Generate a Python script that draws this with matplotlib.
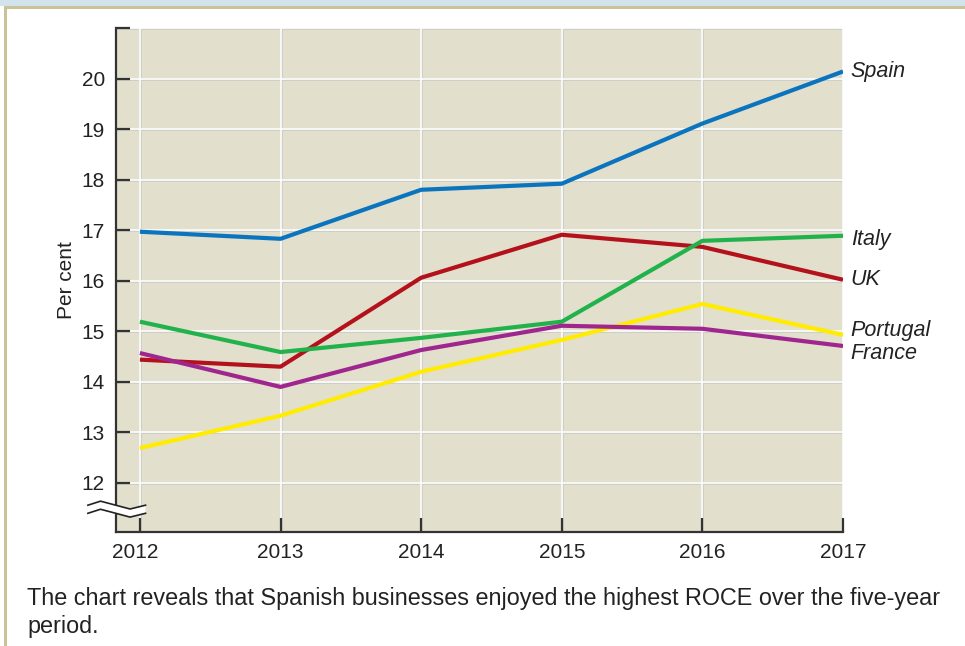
import numpy as np
import matplotlib.pyplot as plt
import matplotlib.transforms as mtransforms
from matplotlib.patches import Rectangle, Polygon

plt.rcParams['font.family'] = ['Liberation Sans', 'DejaVu Sans']

# Data (ROCE, per cent)
years = [2012, 2013, 2014, 2015, 2016, 2017]
spain = [16.97, 16.83, 17.80, 17.92, 19.11, 20.14]
uk = [14.44, 14.30, 16.06, 16.91, 16.67, 16.02]
italy = [15.19, 14.59, 14.87, 15.19, 16.79, 16.89]
portugal = [12.69, 13.33, 14.20, 14.83, 15.54, 14.93]
france = [14.57, 13.90, 14.63, 15.11, 15.05, 14.71]
yticks = [12, 13, 14, 15, 16, 17, 18, 19, 20]

fig = plt.figure(figsize=(9.65, 6.46), dpi=100)
fig.patch.set_facecolor('white')

# outer frame: blue strip on top, khaki border
fig.patches.append(Rectangle((0, 1 - 6/646), 1, 6/646, transform=fig.transFigure,
                             facecolor='#d3e3eb', edgecolor='none', zorder=0))
fig.patches.append(Rectangle((5/965, -0.01), 1.1, 1 - 7/646 + 0.01, transform=fig.transFigure,
                             facecolor='none', edgecolor='#c9c397', lw=2.2, zorder=1))

ax = fig.add_axes([116/965, 1 - 532/646, (843 - 116)/965, (532 - 28)/646])
ax.set_facecolor('#e2dfcc')
ax.set_xlim(2011.83, 2017)
ax.set_ylim(11.03, 21.0)

# grid: faint grey shadow under white line
for y in yticks + [21]:
    ax.axhline(y, color='#cdcdc6', lw=2.0, zorder=1)
    ax.axhline(y, color='white', lw=1.2, zorder=1.1)
for x in years:
    ax.axvline(x, color='#cdcdc6', lw=2.0, zorder=1)
    ax.axvline(x, color='white', lw=1.2, zorder=1.1)

series = [(spain, '#0b74bf'), (uk, '#b3121c'), (italy, '#22b24c'),
          (portugal, '#ffec00'), (france, '#a0268f')]
for vals, col in series:
    ax.plot(years, vals, color=col, lw=3, zorder=3, solid_capstyle='butt')

for s in ['top', 'right']:
    ax.spines[s].set_visible(False)
for s in ['left', 'bottom']:
    ax.spines[s].set_color('#333333')
    ax.spines[s].set_linewidth(1.6)
    ax.spines[s].set_zorder(4)

ax.set_yticks(yticks + [21])
ax.set_yticklabels([str(v) for v in yticks] + [''])
ax.set_xticks(years)
ax.set_xticklabels([str(v) for v in years])
ax.tick_params(axis='both', direction='in', length=10, width=1.6, color='#333333',
               labelsize=15, labelcolor='#222222')
ax.tick_params(axis='y', pad=8)
ax.tick_params(axis='x', pad=8)

# first year label sits a little left of its tick
first = ax.get_xticklabels()[0]
first.set_transform(first.get_transform() +
                    mtransforms.ScaledTranslation(-5/100, 0, fig.dpi_scale_trans))

ax.set_ylabel('Per cent', fontsize=15, color='#222222', labelpad=4)

# axis break marks
top = [(2011.63, 11.56), (2011.72, 11.64), (2011.93, 11.485), (2012.04, 11.56)]
bot = [(x, y - 0.16) for x, y in top]
poly = Polygon(top + bot[::-1], closed=True, facecolor='white', edgecolor='none',
               transform=ax.transData, clip_on=False, zorder=5)
ax.add_patch(poly)
for pts in (top, bot):
    xs, ys = zip(*pts)
    ax.plot(xs, ys, color='#222222', lw=1.2, clip_on=False, zorder=6)

# end labels
labels = [('Spain', 20.14), ('Italy', 16.82), ('UK', 16.02), ('Portugal', 15.02), ('France', 14.56)]
for name, yv in labels:
    ax.text(2017.055, yv, name, fontsize=15.5, style='italic', color='#222222',
            va='center', ha='left', clip_on=False)

fig.text(27/965, 1 - 598/646, 'The chart reveals that Spanish businesses enjoyed the highest ROCE over the five-year',
         fontsize=16.8, color='#222222', va='center', ha='left')
fig.text(27/965, 1 - 626/646, 'period.', fontsize=16.8, color='#222222', va='center', ha='left')

fig.savefig('out.png', dpi=100, facecolor=fig.get_facecolor())
